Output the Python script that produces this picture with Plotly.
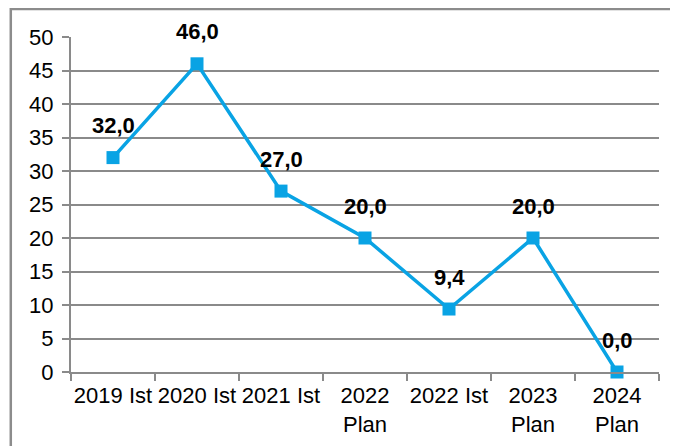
import plotly.graph_objects as go

categories = ["2019 Ist", "2020 Ist", "2021 Ist", "2022<br>Plan", "2022 Ist", "2023<br>Plan", "2024<br>Plan"]
values = [32.0, 46.0, 27.0, 20.0, 9.4, 20.0, 0.0]
labels = ["32,0", "46,0", "27,0", "20,0", "9,4", "20,0", "0,0"]
yticks = [0, 5, 10, 15, 20, 25, 30, 35, 40, 45, 50]

line_color = "#09A3E4"
grid_color = "#8A8A8A"
font_family = "Liberation Sans, Arial, sans-serif"

fig = go.Figure()
fig.add_trace(go.Scatter(
    x=categories, y=values, mode="lines+markers",
    line=dict(color=line_color, width=3.5),
    marker=dict(symbol="square", size=13, color=line_color),
    cliponaxis=False, showlegend=False,
))

for c, v, t in zip(categories, values, labels):
    fig.add_annotation(x=c, y=v, text="<b>%s</b>" % t, showarrow=False,
                       yshift=32, font=dict(size=22, color="#000", family=font_family))

fig.add_shape(type="rect", xref="paper", yref="paper",
              x0=-0.1024, x1=1.06, y0=-0.6, y1=1.0836,
              line=dict(color="#8C8C8C", width=2.5), layer="below")

fig.update_layout(
    width=670, height=438,
    margin=dict(l=63, r=19, t=29, b=74, autoexpand=False),
    paper_bgcolor="white", plot_bgcolor="white",
    font=dict(family=font_family, size=22, color="#000"),
    xaxis=dict(
        type="category", showline=True, linecolor=grid_color, linewidth=2,
        ticks="outside", ticklen=7, tickcolor=grid_color, tickwidth=2,
        tickson="boundaries", showgrid=False, range=[-0.5, 6.5],
        tickfont=dict(size=22), ticklabelstandoff=3, tickangle=0, automargin=False,
    ),
    yaxis=dict(
        range=[0, 50], tickvals=yticks, showline=True, linecolor=grid_color, linewidth=2,
        ticks="outside", ticklen=7, tickcolor=grid_color, tickwidth=2,
        showgrid=True, gridcolor=grid_color, gridwidth=2, zeroline=False,
        tickfont=dict(size=22), ticklabelstandoff=4, automargin=False,
    ),
)

fig.write_html("out.html")
